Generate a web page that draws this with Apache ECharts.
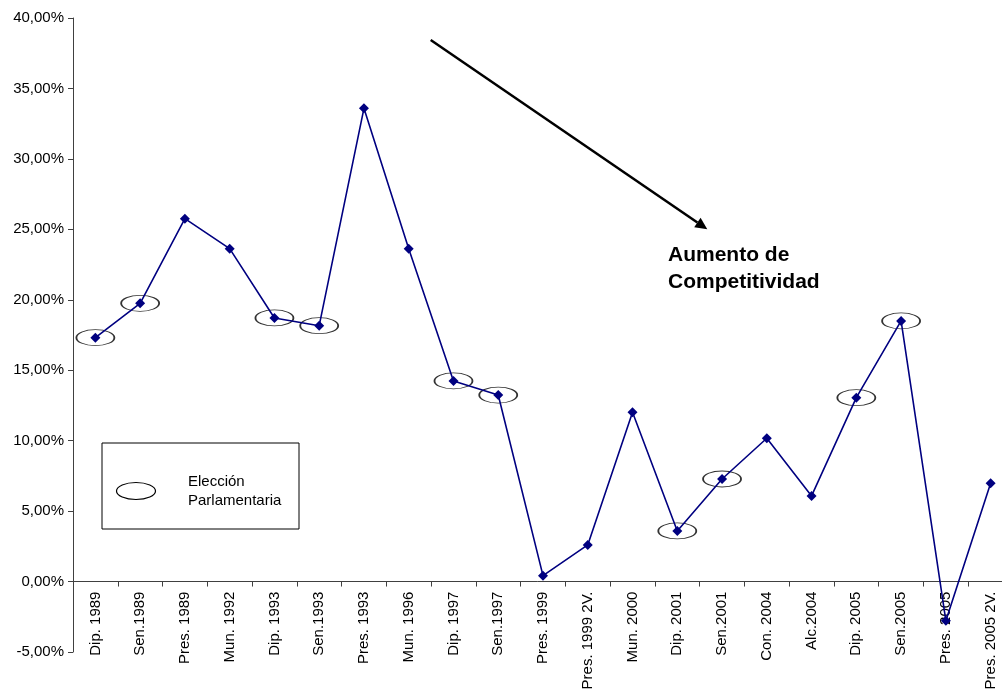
<!DOCTYPE html>
<html lang="es">
<head>
  <meta charset="UTF-8">
  <title>Competitividad electoral</title>
  <script src="https://cdn.jsdelivr.net/npm/echarts@6/dist/echarts.min.js"></script>
  <style>
    html, body { margin: 0; padding: 0; background: #fff; }
    #main { width: 1002px; height: 696px; }
  </style>
</head>
<body>
  <div id="main"></div>
  <script>
    // categorias (elecciones)
    var categorias = ['Dip. 1989', 'Sen.1989', 'Pres. 1989', 'Mun. 1992', 'Dip. 1993', 'Sen.1993',
      'Pres. 1993', 'Mun. 1996', 'Dip. 1997', 'Sen.1997', 'Pres. 1999', 'Pres. 1999 2V.',
      'Mun. 2000', 'Dip. 2001', 'Sen.2001', 'Con. 2004', 'Alc.2004', 'Dip. 2005', 'Sen.2005',
      'Pres. 2005', 'Pres. 2005 2V.']
    // valores en %
    var valores = [17.31, 19.75, 25.76, 23.63, 18.71, 18.16, 33.59, 23.63, 14.24, 13.24, 0.42, 2.60,
      12.02, 3.59, 7.28, 10.17, 6.08, 13.05, 18.50, -2.78, 6.98]
    // elecciones parlamentarias (marcadas con elipse)
    var parlamentarias = ['Dip. 1989', 'Sen.1989', 'Dip. 1993', 'Sen.1993', 'Dip. 1997', 'Sen.1997',
      'Dip. 2001', 'Sen.2001', 'Dip. 2005', 'Sen.2005']
    var yMin = -5, yMax = 40, yPaso = 5

    var elipses = categorias.map(function (c, i) {
      return parlamentarias.indexOf(c) >= 0 ? valores[i] : null
    })

    var elipsePath = 'path://M0,50 C0,22.4 22.4,0 50,0 C77.6,0 100,22.4 100,50 C100,77.6 77.6,100 50,100 C22.4,100 0,77.6 0,50 Z'
    var fuente = 'Liberation Sans, Arial, sans-serif'

    var altoGrid = 634
    // el eje X cruza en 0: se sube desde el borde inferior
    var desplazamientoEjeX = -altoGrid * (0 - yMin) / (yMax - yMin)

    var myChart = echarts.init(document.getElementById('main'))
    var option = {
      animation: false,
      grid: { left: 73, top: 18, width: 940, height: altoGrid, containLabel: false, outerBoundsMode: 'none' },
      xAxis: {
        type: 'category',
        data: categorias,
        position: 'bottom',
        offset: desplazamientoEjeX,
        axisLine: { onZero: false, lineStyle: { color: '#404040', width: 1 } },
        axisTick: { show: true, length: 5, lineStyle: { color: '#404040', width: 1 } },
        axisLabel: {
          rotate: 90, interval: 0, margin: 10,
          color: '#000', fontSize: 15, fontFamily: fuente
        },
        splitLine: { show: false }
      },
      yAxis: {
        type: 'value',
        min: yMin, max: yMax, interval: yPaso,
        axisLine: { show: true, lineStyle: { color: '#404040', width: 1 } },
        axisTick: { show: true, length: 5, lineStyle: { color: '#404040' } },
        axisLabel: {
          margin: 9, color: '#000', fontSize: 15, fontFamily: fuente,
          formatter: function (v) { return v.toFixed(2).replace('.', ',') + '%' }
        },
        splitLine: { show: false }
      },
      series: [
        {
          type: 'scatter',
          data: elipses,
          symbol: elipsePath,
          symbolSize: [38, 16],
          silent: true,
          z: 1,
          itemStyle: { color: 'rgba(0,0,0,0)', borderColor: '#000', borderWidth: 1.2 }
        },
        {
          type: 'line',
          data: valores,
          symbol: 'diamond',
          symbolSize: 10,
          z: 2,
          itemStyle: { color: '#000080' },
          lineStyle: { color: '#000080', width: 1.6 }
        }
      ],
      graphic: [
        // recuadro de leyenda
        { type: 'rect', shape: { x: 102, y: 443, width: 197, height: 86 },
          style: { fill: '#fff', stroke: '#000', lineWidth: 1 }, z: 10 },
        { type: 'ellipse', shape: { cx: 136, cy: 491, rx: 19.5, ry: 8.5 },
          style: { fill: 'none', stroke: '#000', lineWidth: 1.2 }, z: 11 },
        { type: 'text', left: 188, top: 472, z: 11,
          style: { text: 'Elección\nParlamentaria', fill: '#000', font: '15px ' + fuente, lineHeight: 19 } },
        // flecha
        { type: 'line', shape: { x1: 430.7, y1: 40, x2: 697.4, y2: 222.5 },
          style: { stroke: '#000', lineWidth: 2.5 }, z: 10 },
        { type: 'polygon', shape: { points: [[707.3, 229.3], [694.2, 227.2], [700.6, 217.8]] },
          style: { fill: '#000' }, z: 10 },
        { type: 'text', left: 668, top: 242, z: 10,
          style: { text: 'Aumento de\nCompetitividad', fill: '#000', font: 'bold 21px ' + fuente, lineHeight: 27 } }
      ]
    }
    myChart.setOption(option)
  </script>
</body>
</html>
